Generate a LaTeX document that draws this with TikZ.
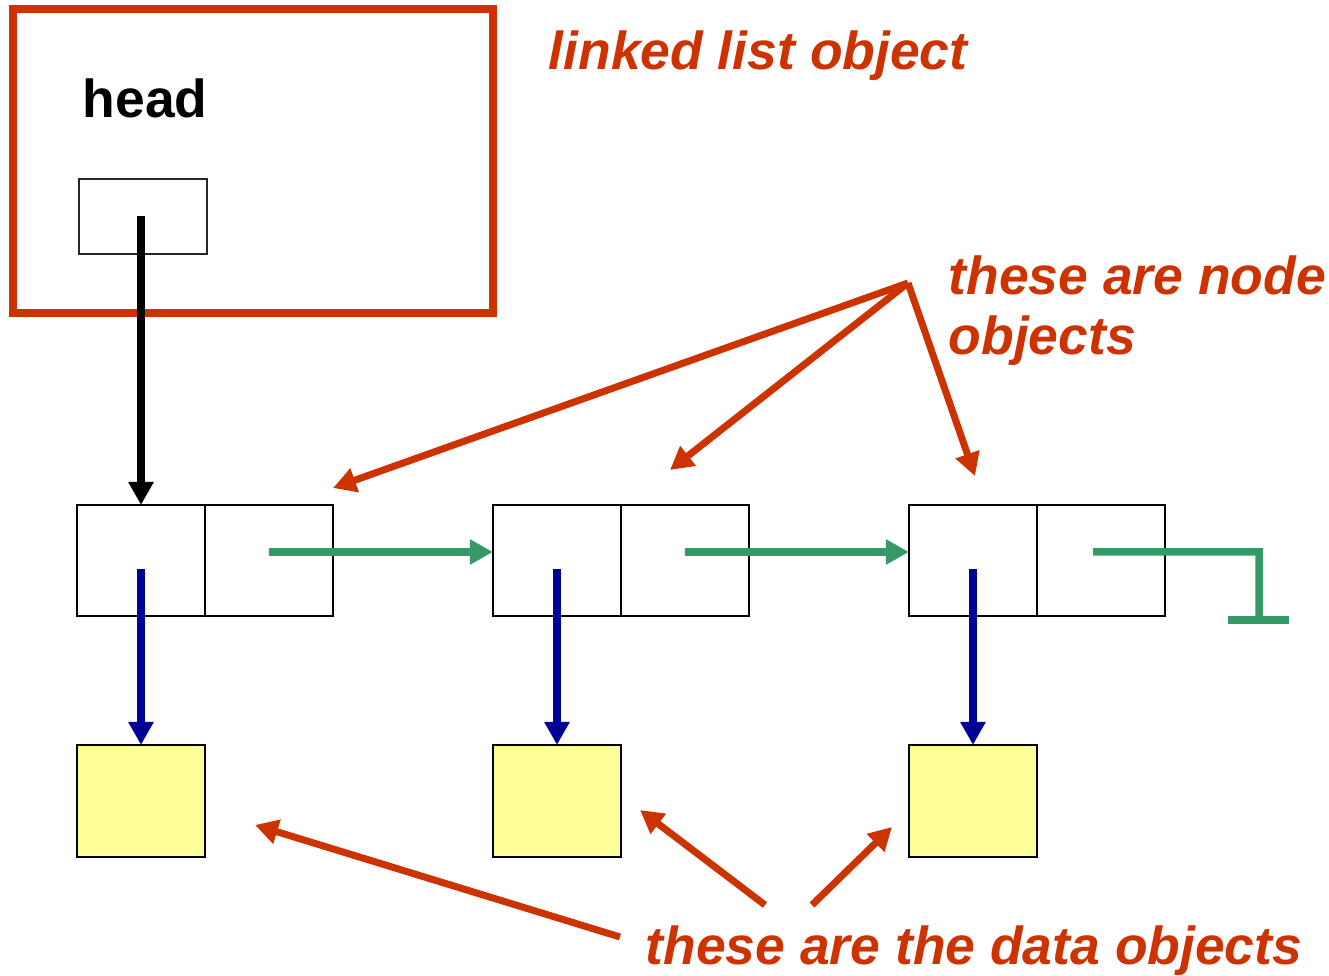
\documentclass[tikz,border=0pt]{standalone}
\usepackage{fontspec}
\setmainfont{Liberation Sans}
\usetikzlibrary{arrows.meta,positioning}
\definecolor{listred}{HTML}{CC3300}
\definecolor{ptrgreen}{HTML}{369A68}
\definecolor{ptrblue}{HTML}{000099}
\definecolor{datayellow}{HTML}{FFFF99}
\begin{document}
\begin{tikzpicture}[x=0.01cm, y=-0.01cm,
    cell/.style={draw, line width=0.025cm, minimum width=1.28cm, minimum height=1.11cm, inner sep=0pt, outer sep=0pt},
    datum/.style={cell, fill=datayellow, minimum height=1.12cm},
    note/.style={text=listred, font=\fontsize{15.2}{17}\selectfont\bfseries\itshape, inner sep=0pt, anchor=base west},
    ptr/.style={line width=0.075cm, -{Triangle[length=0.23cm,width=0.24cm]}},
    nextptr/.style={ptr, ptrgreen},
    dataptr/.style={ptr, ptrblue},
    noteptr/.style={ptr, listred, line width=0.07cm}]
    \useasboundingbox (0,0) rectangle (1329,976);
    % linked list object
    \node[draw=listred, line width=0.08cm, minimum width=4.8cm, minimum height=3.04cm, inner sep=0pt] (lobj) at (253,161) {};
    \node[font=\fontsize{15.2}{17}\selectfont\bfseries, inner sep=0pt, anchor=base west] (headlbl) at (82,118) {head};
    \node[cell, draw=black!85, line width=0.02cm, minimum height=0.75cm] (hp) at (143,216.5) {};
    % list nodes
    \node[cell] (n1a) at (141,560.5) {};
    \node[cell, right=0pt of n1a] (n1b) {};
    \node[cell] (n2a) at (557,560.5) {};
    \node[cell, right=0pt of n2a] (n2b) {};
    \node[cell] (n3a) at (973,560.5) {};
    \node[cell, right=0pt of n3a] (n3b) {};
    % data objects
    \node[datum] (d1) at (141,801) {};
    \node[datum] (d2) at (557,801) {};
    \node[datum] (d3) at (973,801) {};
    % pointers
    \draw[ptr] (hp.center -| n1a) -- (n1a.north);
    \draw[nextptr] ([yshift=0.085cm]n1b.center) -- ([yshift=0.085cm]n2a.west);
    \draw[nextptr] ([yshift=0.085cm]n2b.center) -- ([yshift=0.085cm]n3a.west);
    \coordinate (nilcorner) at (1259,552);
    \coordinate (nil) at (1259,620);
    \draw[ptrgreen, line width=0.075cm] ([shift={(-0.08cm,0.085cm)}]n3b.center) -- (nilcorner) -- (nil); % null
    \draw[ptrgreen, line width=0.075cm] ([xshift=-0.31cm]nil) -- ([xshift=0.30cm]nil);
    \draw[dataptr] ([yshift=-0.085cm]n1a.center) -- (d1.north);
    \draw[dataptr] ([yshift=-0.085cm]n2a.center) -- (d2.north);
    \draw[dataptr] ([yshift=-0.085cm]n3a.center) -- (d3.north);
    % notes
    \node[note] (lltxt) at (548,70) {linked list object};
    \node[note] (nodetxt) at (948,295) {these are node};
    \node[note] (nodetxtb) at (948,355) {objects};
    \node[note] (datatxt) at (645,965) {these are the data objects};
    \coordinate (fork) at (908,283);
    \coordinate (tipa) at (333,488);
    \coordinate (tipb) at (670,470);
    \coordinate (tipc) at (975,476);
    \draw[noteptr] (fork) -- (tipa);
    \draw[noteptr] (fork) -- (tipb);
    \draw[noteptr] (fork) -- (tipc);
    \coordinate (srca) at (620,937);
    \coordinate (srcb) at (765,905);
    \coordinate (srcc) at (812,905);
    \coordinate (tipd) at (255,825);
    \coordinate (tipe) at (640,810);
    \coordinate (tipf) at (892,827);
    \draw[noteptr] (srca) -- (tipd);
    \draw[noteptr] (srcb) -- (tipe);
    \draw[noteptr] (srcc) -- (tipf);
\end{tikzpicture}
\end{document}
